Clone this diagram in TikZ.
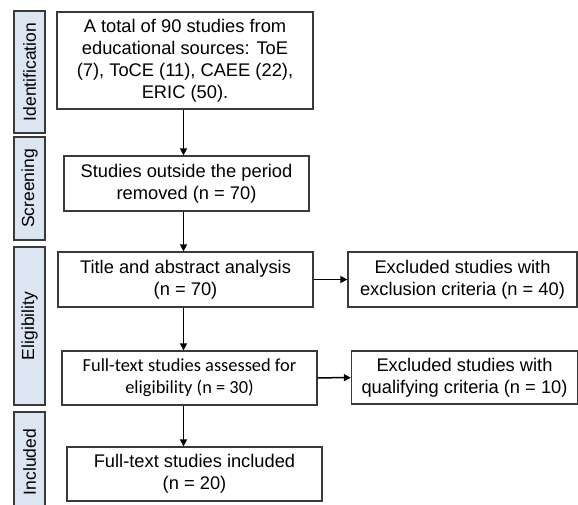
\documentclass[tikz,border=0pt]{standalone}
\usepackage{fontspec}
\setmainfont{Liberation Sans}
\newfontfamily\calfont{Carlito}
\usetikzlibrary{arrows.meta}
\definecolor{phaseblue}{HTML}{DCE6F2}
\definecolor{boxgray}{HTML}{3A3A3A}
\begin{document}
\begin{tikzpicture}[x=1pt,y=-1pt,
  box/.style={draw=boxgray, line width=1.3pt, fill=white, align=center, inner sep=0pt,
    font=\fontsize{18.3}{22}\selectfont},
  phase/.style={draw=boxgray, line width=1.3pt, fill=phaseblue, rotate=90, inner sep=0pt,
    minimum height=31pt, font=\fontsize{17.5}{21}\selectfont},
  arr/.style={line width=1.5pt, -{Triangle[length=7pt,width=7pt]}}]

\useasboundingbox (0,0) rectangle (578,504);

\newcommand\SX{29.5}

% phases
\node[phase, minimum width=122pt] (ident) at (\SX, 72)    {Identification};
\node[phase, minimum width=103pt] (scr)   at (\SX, 188.5) {Screening};
\node[phase, minimum width=158pt] (elig)  at (\SX, 326)   {Eligibility};
\node[phase, minimum width=100pt] (incl)  at (\SX, 462)   {Included};

% boxes
\node[box, minimum width=256pt, minimum height=97pt] (total) at (185, 60.5)
  {A total of 90 studies from\\educational sources: ToE\\(7), ToCE (11), CAEE (22),\\ERIC (50).};
\node[box, minimum width=245pt, minimum height=55pt] (period) at (186.5, 183.5)
  {Studies outside the period\\removed (n = 70)};
\node[box, minimum width=255pt, minimum height=55pt] (title) at (185.5, 279.5)
  {Title and abstract analysis\\(n = 70)};
\node[box, minimum width=229pt, minimum height=55pt] (excl) at (462.5, 279.5)
  {Excluded studies with\\exclusion criteria (n = 40)};
\node[box, minimum width=255pt, minimum height=54pt, font=\calfont\fontsize{18.4}{22}\selectfont] (full) at (189.5, 378)
  {Full-text studies assessed for\\eligibility (n = 30)};
\node[box, minimum width=226pt, minimum height=53pt] (qual) at (464.5, 377.5)
  {Excluded studies with\\qualifying criteria (n = 10)};
\node[box, minimum width=255pt, minimum height=54pt] (incbox) at (194.5, 474)
  {Full-text studies included\\(n = 20)};

\coordinate (spine) at (183.5, 0);

% arrows
\draw[arr] (total.south -| spine)  -- (period.north -| spine);
\draw[arr] (period.south -| spine) -- (title.north -| spine);
\draw[arr] (title.south -| spine)  -- (full.north -| spine);
\draw[arr] (full.south -| spine)   -- (incbox.north -| spine);
\draw[arr] (title) -- (excl);
\draw[arr] (full) -- (qual);

\end{tikzpicture}
\end{document}
